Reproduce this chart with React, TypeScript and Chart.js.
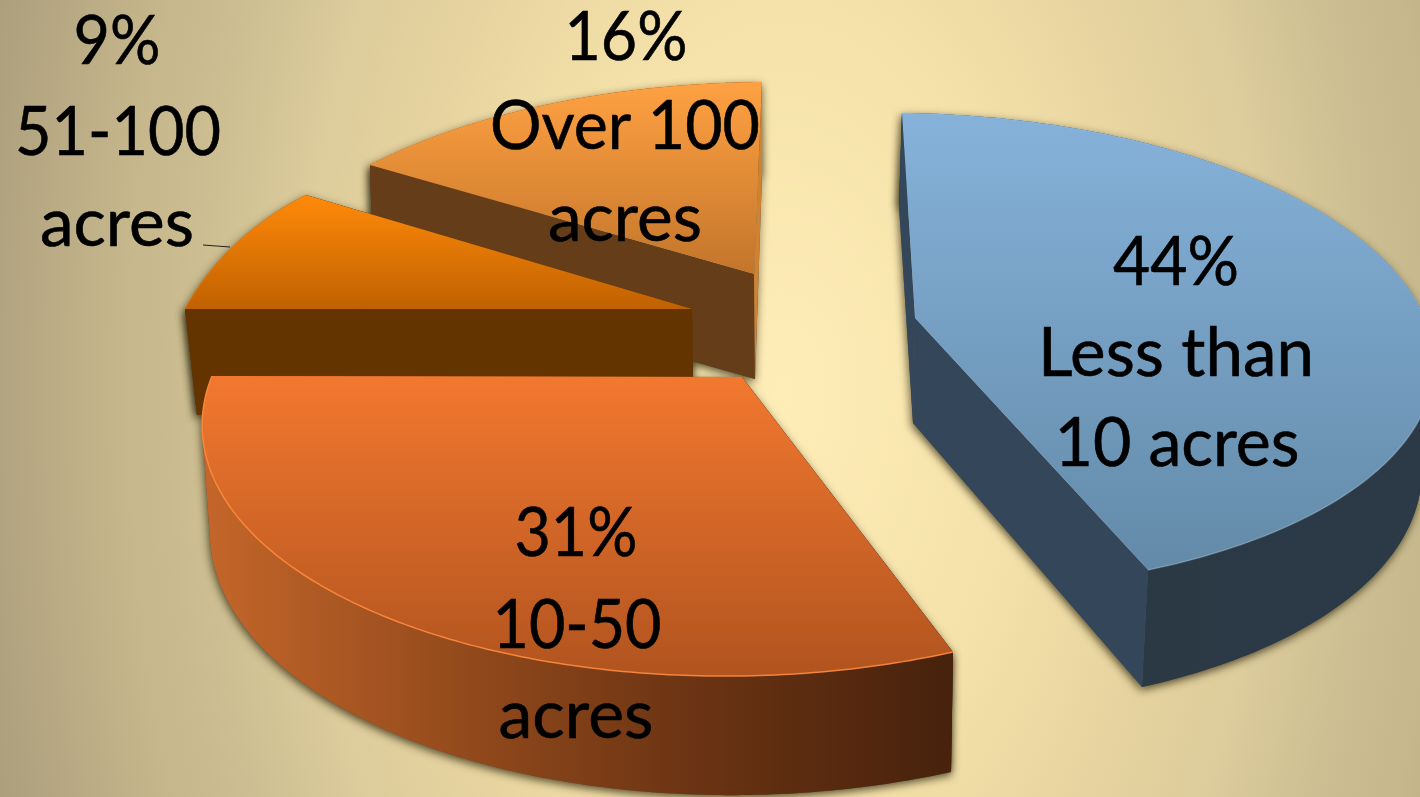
import React, { useEffect, useRef } from "react";
import { Chart, registerables } from "chart.js";

Chart.register(...registerables);

const categories = ["Less than 10 acres", "10-50 acres", "51-100 acres", "Over 100 acres"];
const shares = [44, 31, 9, 16];
const labelLines = [
  ["44%", "Less than", "10 acres"],
  ["31%", "10-50", "acres"],
  ["9%", "51-100", "acres"],
  ["16%", "Over 100", "acres"],
];

type P = [number, number];
// Perspective placement of each exploded slice: where the slice's centre, first edge,
// last edge and one rim point land for the top face and for the bottom face.
const projection: { rimAt: number; top: P[]; bottom: P[]; rimOver: boolean }[] = [
  { rimAt: 0.5, top: [[915, 318], [902, 113], [1148, 570], [1402, 280]], bottom: [[913, 423], [899, 206], [1142, 687], [1391, 384]], rimOver: false },
  { rimAt: 0.6, top: [[742, 377], [953, 652], [212, 376], [304, 575]], bottom: [[745, 482], [951, 772], [219, 481], [310, 688]], rimOver: true },
  { rimAt: 0.5, top: [[692, 309], [185, 309], [306, 195], [240, 240]], bottom: [[693, 378], [197, 415], [312, 300], [250, 345]], rimOver: false },
  { rimAt: 0.5, top: [[754, 274], [370, 165], [762, 82], [550, 104]], bottom: [[755, 379], [373, 271], [762, 175], [552, 210]], rimOver: false },
];
const paintOrder = [0, 3, 2, 1];

const faceStyle = [
  { top: [113, "#86B2DA", 570, "#638AA8"], rim: [[900, "#2A3844"], [1420, "#2C3A47"]], startWall: "#33465A", endWall: "#33465A", edge: "rgba(170,200,225,0.35)" },
  { top: [377, "#F2782F", 672, "#B2541F"], rim: [[205, "#C4662A"], [500, "#8C461A"], [700, "#6A3313"], [950, "#47220C"]], startWall: "#47220C", endWall: "#BC6226", edge: "rgba(255,138,60,0.9)" },
  { top: [195, "#FF8A0A", 309, "#C06100"], rim: [[180, "#633400"], [320, "#633400"]], startWall: "#633400", endWall: "#633400", edge: "rgba(255,140,20,0.4)" },
  { top: [82, "#FFA142", 274, "#C3752B"], rim: [[370, "#653D18"], [770, "#653D18"]], startWall: "#653D18", endWall: "#CE8232", edge: "rgba(255,165,70,0.4)" },
] as any[];

// centre x, baseline y, drawn width of each text line
const labelPlacement: number[][][] = [
  [[1176, 285, 126], [1176, 376, 276], [1177, 466, 245]],
  [[576, 556, 123], [577, 648, 169], [576, 738, 155]],
  [[117, 64, 87], [118, 155, 206], [117, 246, 154]],
  [[626, 60, 123], [625, 149, 270], [625, 241, 154]],
];
const leaderFrom: P = [203, 245];
const leaderTo: P = [230, 247];

const backdropStops: [number, string][] = [
  [0, "#FFEDB8"], [0.29, "#F4E1A9"], [0.46, "#E6D39F"], [0.58, "#DDCC9C"],
  [0.695, "#CDBF92"], [0.79, "#C6B78C"], [0.94, "#B2A480"], [1, "#AA9D7A"],
];

function solveHomography(src: P[], dst: P[]) {
  const m: number[][] = [];
  src.forEach(([x, y], i) => {
    const [X, Y] = dst[i];
    m.push([x, y, 1, 0, 0, 0, -x * X, -y * X, X]);
    m.push([0, 0, 0, x, y, 1, -x * Y, -y * Y, Y]);
  });
  for (let c = 0; c < 8; c++) {
    let p = c;
    for (let r = c + 1; r < 8; r++) if (Math.abs(m[r][c]) > Math.abs(m[p][c])) p = r;
    [m[c], m[p]] = [m[p], m[c]];
    for (let r = 0; r < 8; r++) {
      if (r === c) continue;
      const f = m[r][c] / m[c][c];
      for (let k = c; k < 9; k++) m[r][k] -= f * m[c][k];
    }
  }
  const h = m.map((row, i) => row[8] / row[i]);
  return (x: number, y: number): P => {
    const w = h[6] * x + h[7] * y + 1;
    return [(h[0] * x + h[1] * y + h[2]) / w, (h[3] * x + h[4] * y + h[5]) / w];
  };
}

function addPoly(ctx: CanvasRenderingContext2D, pts: P[]) {
  pts.forEach((p, i) => (i ? ctx.lineTo(p[0], p[1]) : ctx.moveTo(p[0], p[1])));
  ctx.closePath();
}
function poly(ctx: CanvasRenderingContext2D, pts: P[]) {
  ctx.beginPath();
  addPoly(ctx, pts);
}
// The outer wall: every small step of the rim joined from the top face to the bottom face.
function rimPath(ctx: CanvasRenderingContext2D, s: any) {
  ctx.beginPath();
  for (let k = 0; k + 1 < s.top.length; k++) {
    const q: P[] = [s.top[k], s.top[k + 1], s.bot[k + 1], s.bot[k]];
    const area = q.reduce((acc, p, j) => {
      const n = q[(j + 1) % 4];
      return acc + p[0] * n[1] - n[0] * p[1];
    }, 0);
    addPoly(ctx, area < 0 ? [...q].reverse() : q);
  }
}

const tiltedPie = {
  id: "tiltedPie",
  beforeDraw(chart: any) {
    const { ctx, width, height } = chart;
    ctx.save();
    ctx.translate(785, 390);
    ctx.scale(1, 1 / 0.6);
    const g = ctx.createRadialGradient(0, 0, 0, 0, 0, 835);
    backdropStops.forEach(([o, c]) => g.addColorStop(o, c));
    ctx.fillStyle = g;
    ctx.fillRect(-width, -height, width * 2, height * 2);
    ctx.restore();
  },
  beforeDatasetsDraw(chart: any) {
    const ctx: CanvasRenderingContext2D = chart.ctx;
    const arcs = chart.getDatasetMeta(0).data;
    const slices = arcs.map((arc: any, i: number) => {
      const cfg = projection[i];
      const a0 = arc.startAngle;
      const a1 = arc.endAngle;
      const am = a0 + (a1 - a0) * cfg.rimAt;
      const unit: P[] = [[0, 0], [Math.cos(a0), Math.sin(a0)], [Math.cos(a1), Math.sin(a1)], [Math.cos(am), Math.sin(am)]];
      const hTop = solveHomography(unit, cfg.top);
      const hBot = solveHomography(unit, cfg.bottom);
      const rimPts = (h: (x: number, y: number) => P) => {
        const out: P[] = [];
        for (let k = 0; k <= 160; k++) {
          const a = a0 + ((a1 - a0) * k) / 160;
          out.push(h(Math.cos(a), Math.sin(a)));
        }
        return out;
      };
      return { top: rimPts(hTop), bot: rimPts(hBot), cTop: hTop(0, 0), cBot: hBot(0, 0) };
    });
    const pieces = (s: any) => ({
      startWall: [s.cTop, s.top[0], s.bot[0], s.cBot] as P[],
      endWall: [s.cTop, s.top[s.top.length - 1], s.bot[s.bot.length - 1], s.cBot] as P[],
      topFace: [s.cTop, ...s.top] as P[],
    });

    // soft drop shadows under the walls only
    ctx.save();
    ctx.shadowColor = "rgba(50,42,15,0.8)";
    ctx.shadowBlur = 8;
    ctx.shadowOffsetX = -1;
    ctx.shadowOffsetY = 3;
    ctx.fillStyle = "#555";
    for (const i of paintOrder) {
      const s = slices[i];
      const p = pieces(s);
      rimPath(ctx, s);
      ctx.fill();
      poly(ctx, p.startWall);
      ctx.fill();
      poly(ctx, p.endWall);
      ctx.fill();
    }
    ctx.restore();

    for (const i of paintOrder) {
      const s = slices[i];
      const st = faceStyle[i];
      const p = pieces(s);
      const x0 = st.rim[0][0];
      const x1 = st.rim[st.rim.length - 1][0];
      const rimFill = ctx.createLinearGradient(x0, 0, x1, 0);
      st.rim.forEach(([x, c]: any) => rimFill.addColorStop((x - x0) / (x1 - x0), c));
      const drawRim = () => {
        ctx.fillStyle = rimFill;
        rimPath(ctx, s);
        ctx.fill();
      };
      const drawWalls = () => {
        ctx.fillStyle = st.startWall;
        poly(ctx, p.startWall);
        ctx.fill();
        ctx.fillStyle = st.endWall;
        poly(ctx, p.endWall);
        ctx.fill();
      };
      if (projection[i].rimOver) {
        drawWalls();
        drawRim();
      } else {
        drawRim();
        drawWalls();
      }
      const tf = ctx.createLinearGradient(0, st.top[0], 0, st.top[2]);
      tf.addColorStop(0, st.top[1]);
      tf.addColorStop(1, st.top[3]);
      ctx.fillStyle = tf;
      poly(ctx, p.topFace);
      ctx.fill();
      ctx.strokeStyle = st.edge;
      ctx.lineWidth = 1.5;
      ctx.beginPath();
      s.top.forEach((q: P, k: number) => (k ? ctx.lineTo(q[0], q[1]) : ctx.moveTo(q[0], q[1])));
      ctx.stroke();
    }
    return false;
  },
  afterDraw(chart: any) {
    const ctx: CanvasRenderingContext2D = chart.ctx;
    ctx.save();
    ctx.fillStyle = "#000";
    ctx.strokeStyle = "#000";
    ctx.lineWidth = 0.6;
    ctx.textAlign = "center";
    ctx.textBaseline = "alphabetic";
    ctx.font = "67px Lato";
    labelLines.forEach((lines, i) =>
      lines.forEach((line, j) => {
        const [cx, base, w] = labelPlacement[i][j];
        ctx.save();
        ctx.translate(cx, base);
        ctx.scale(w / ctx.measureText(line).width, 1);
        ctx.fillText(line, 0, 0);
        ctx.strokeText(line, 0, 0);
        ctx.restore();
      })
    );
    ctx.strokeStyle = "#222";
    ctx.lineWidth = 1;
    ctx.beginPath();
    ctx.moveTo(leaderFrom[0], leaderFrom[1]);
    ctx.lineTo(leaderTo[0], leaderTo[1]);
    ctx.stroke();
    ctx.restore();
  },
};

export default function App() {
  const ref = useRef<HTMLCanvasElement>(null);
  useEffect(() => {
    const chart = new Chart(ref.current as HTMLCanvasElement, {
      type: "pie",
      data: { labels: categories, datasets: [{ data: shares }] },
      options: {
        responsive: false,
        animation: false,
        layout: { padding: 0 },
        plugins: { legend: { display: false }, tooltip: { enabled: false } },
      },
      plugins: [tiltedPie],
    } as any);
    return () => chart.destroy();
  }, []);
  return <canvas ref={ref} width={1420} height={797} style={{ position: "fixed", left: 0, top: 0, display: "block" }} />;
}
